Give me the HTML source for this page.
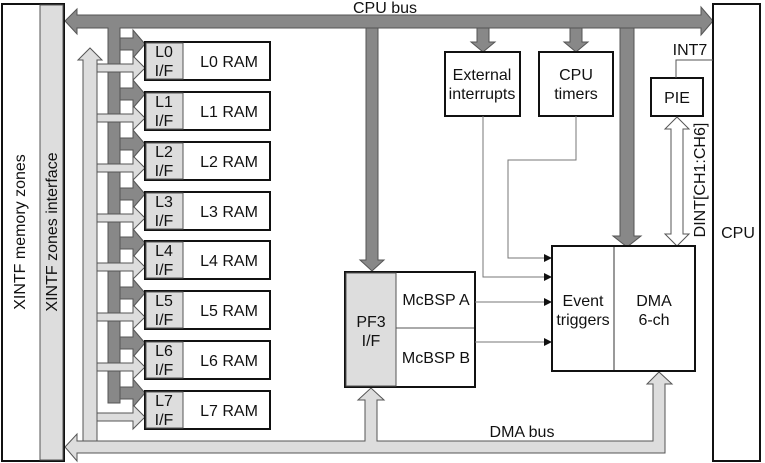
<!DOCTYPE html><html><head><style>body{margin:0;background:#fff}svg{display:block}text{font-family:"Liberation Sans",sans-serif;font-size:16px;fill:#111}</style></head><body>
<svg width="765" height="463" viewBox="0 0 765 463">
<g stroke="#555" stroke-width="1">
<path d="M83 442 V60 H78 L90 48 L102 60 H97 V442 Z" fill="#ddd"/>
<path d="M65 447 L77 434 V441 H365 V400 H358 L371 388 L384 400 H377 V441 H653 V384 H647 L659 372 L672 384 H665 V453 H77 V461 Z" fill="#ddd"/>
<path d="M65 21 L77 9 V15 H701 V7 L713 21 L701 35 V28 H120 V403 H108 V28 H77 V34 Z" fill="#888"/>
<path d="M366 28 H378 V260 H384 L372 271 L360 260 H366 Z" fill="#888"/>
<path d="M477 28 H489 V42 H495 L483 52 L471 42 H477 Z" fill="#888"/>
<path d="M570 28 H582 V42 H588 L576 52 L564 42 H570 Z" fill="#888"/>
<path d="M620 28 H634 V236 H641 L627 247 L613 236 H620 Z" fill="#888"/>
</g>
<g stroke="#555" stroke-width="1">
<g id="br">
<path d="M120 38 H133 V30 L145 44 L133 58 V50 H120 Z" fill="#888"/>
<path d="M97 64 H133 V56 L145 68 L133 80 V72 H97 Z" fill="#ddd"/>
</g>
<use href="#br" y="50"/><use href="#br" y="100"/><use href="#br" y="150"/><use href="#br" y="199"/><use href="#br" y="249"/><use href="#br" y="299"/><use href="#br" y="349"/>
</g>
<rect x="2" y="4" width="62" height="457" fill="#fff" stroke="#111" stroke-width="2"/>
<rect x="40" y="5" width="23" height="455" fill="#ddd" stroke="#555"/>
<text transform="translate(25 232) rotate(-90)" text-anchor="middle">XINTF memory zones</text>
<text transform="translate(57 232) rotate(-90)" text-anchor="middle">XINTF zones interface</text>
<rect x="713" y="4" width="47" height="457" fill="#fff" stroke="#111" stroke-width="2"/>
<text x="738" y="238" text-anchor="middle">CPU</text>
<text x="385" y="13" text-anchor="middle">CPU bus</text>
<g id="lb"><rect x="145" y="42" width="125" height="38" fill="#fff" stroke="#111" stroke-width="2"/><rect x="146" y="43" width="37" height="36" fill="#ddd" stroke="#555"/></g>
<use href="#lb" y="50"/><use href="#lb" y="100"/><use href="#lb" y="150"/><use href="#lb" y="199"/><use href="#lb" y="249"/><use href="#lb" y="299"/><use href="#lb" y="349"/>
<g text-anchor="middle">
<text x="164" y="57">L0</text><text x="164" y="76">I/F</text><text x="229" y="67">L0 RAM</text>
<text x="164" y="107">L1</text><text x="164" y="126">I/F</text><text x="229" y="117">L1 RAM</text>
<text x="164" y="157">L2</text><text x="164" y="176">I/F</text><text x="229" y="167">L2 RAM</text>
<text x="164" y="207">L3</text><text x="164" y="226">I/F</text><text x="229" y="217">L3 RAM</text>
<text x="164" y="256">L4</text><text x="164" y="275">I/F</text><text x="229" y="266">L4 RAM</text>
<text x="164" y="306">L5</text><text x="164" y="325">I/F</text><text x="229" y="316">L5 RAM</text>
<text x="164" y="356">L6</text><text x="164" y="375">I/F</text><text x="229" y="366">L6 RAM</text>
<text x="164" y="406">L7</text><text x="164" y="425">I/F</text><text x="229" y="416">L7 RAM</text>
</g>
<rect x="345" y="272" width="130" height="115" fill="#fff" stroke="#111" stroke-width="2"/>
<rect x="346" y="273" width="50" height="113" fill="#ddd" stroke="#555"/>
<line x1="396" y1="328" x2="474" y2="328" stroke="#555"/>
<g text-anchor="middle"><text x="371" y="327">PF3</text><text x="371" y="346">I/F</text>
<text x="436" y="305">McBSP A</text><text x="436" y="363">McBSP B</text></g>
<rect x="445" y="52" width="75" height="64" fill="#fff" stroke="#111" stroke-width="2"/>
<text x="482" y="80" text-anchor="middle">External</text><text x="482" y="99" text-anchor="middle">interrupts</text>
<rect x="539" y="52" width="74" height="64" fill="#fff" stroke="#111" stroke-width="2"/>
<text x="576" y="80" text-anchor="middle">CPU</text><text x="576" y="99" text-anchor="middle">timers</text>
<rect x="651" y="78" width="52" height="38" fill="#fff" stroke="#111" stroke-width="2"/>
<text x="677" y="103" text-anchor="middle">PIE</text>
<path d="M676 78 V60 H713" fill="none" stroke="#555"/>
<text x="690" y="55" text-anchor="middle">INT7</text>
<path d="M677 117 L689 129 H683 V234 H689 L677 246 L665 234 H671 V129 H665 Z" fill="#fff" stroke="#555"/>
<text transform="translate(705 180) rotate(-90)" text-anchor="middle">DINT[CH1:CH6]</text>
<g stroke="#777" fill="none"><path d="M483 116 V277 H545"/><path d="M576 116 V160 H508 V258 H545"/><path d="M475 302 H545"/><path d="M475 342 H545"/></g>
<g fill="#111"><path d="M552 258 l-8 -4 v8z"/><path d="M552 277 l-8 -4 v8z"/><path d="M552 302 l-8 -4 v8z"/><path d="M552 342 l-8 -4 v8z"/></g>
<rect x="552" y="246" width="143" height="125" fill="#fff" stroke="#111" stroke-width="2"/>
<line x1="614" y1="247" x2="614" y2="370" stroke="#333"/>
<g text-anchor="middle"><text x="583" y="306">Event</text><text x="583" y="325">triggers</text><text x="654" y="306">DMA</text><text x="654" y="325">6-ch</text></g>
<text x="522" y="437" text-anchor="middle">DMA bus</text>
</svg></body></html>
